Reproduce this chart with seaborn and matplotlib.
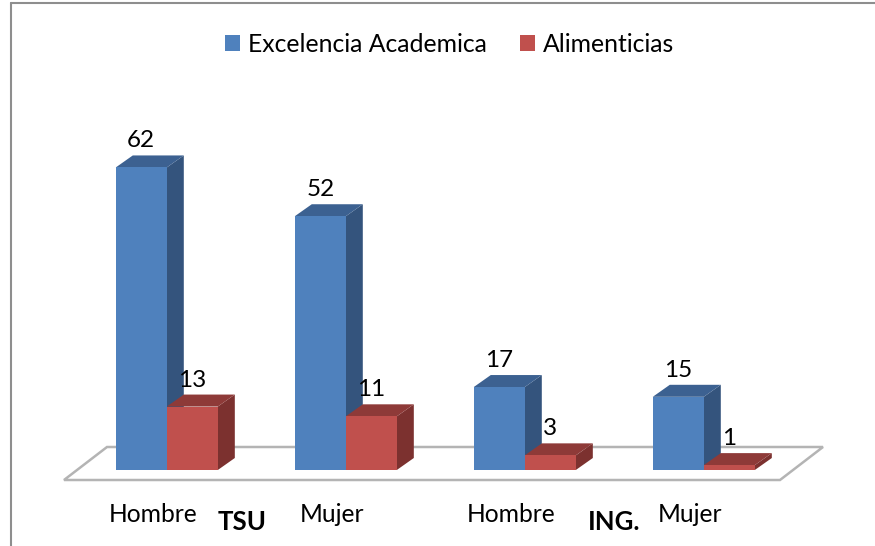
import matplotlib
matplotlib.use('Agg')
import matplotlib.pyplot as plt
from matplotlib.lines import Line2D
from matplotlib.patches import Patch, Polygon
import numpy as np
import pandas as pd
import seaborn as sns

# Chart data
grupos = ['TSU Hombre', 'TSU Mujer', 'ING Hombre', 'ING Mujer']
sexo = ['Hombre', 'Mujer', 'Hombre', 'Mujer']
excelencia = [62, 52, 17, 15]
alimenticias = [13, 11, 3, 1]
series = ['Excelencia Academica', 'Alimenticias']

df = pd.DataFrame({
    'grupo': grupos * 2,
    'serie': [series[0]] * 4 + [series[1]] * 4,
    'valor': excelencia + alimenticias,
})

W, H = 875, 546
CAT_PX = 179      # pixels between categories
UNIT_PX = 4.88    # pixels per unit on the value axis
BASE_Y = 470      # pixel row of the value 0
FIRST_X = 166.8   # pixel column of the first category
FONT = 'Lato'

colores = {series[0]: '#4F81BD', series[1]: '#C0504D'}
laterales = {series[0]: '#34547D', series[1]: '#7C312F'}
superiores = {series[0]: '#3C6191', series[1]: '#8E3A38'}

sns.set_theme(style='white')
plt.rcParams['font.family'] = [FONT, 'DejaVu Sans']

fig = plt.figure(figsize=(W / 100, H / 100), dpi=100, facecolor='white')
left, right, top = 64, 823, 100
ax = fig.add_axes([left / W, 1 - BASE_Y / H, (right - left) / W, (BASE_Y - top) / H])
ax.patch.set_alpha(0)

sns.barplot(data=df, x='grupo', y='valor', hue='serie', order=grupos, hue_order=series,
            palette=colores, width=0.57, gap=0, saturation=1, legend=False, ax=ax, zorder=3,
            linewidth=0)

ax.set_xlim((left - FIRST_X) / CAT_PX, (right - FIRST_X) / CAT_PX)
ax.set_ylim(0, (BASE_Y - top) / UNIT_PX)
sns.despine(ax=ax, left=True, bottom=True, top=True, right=True)
ax.set_xlabel('')
ax.set_ylabel('')
ax.set_yticks([])

# Labels sit a little left of the bar pairs
offset = 14 / CAT_PX
ax.set_xticks(np.arange(4) - offset, sexo, fontsize=17.7, color='black')
ax.tick_params(axis='x', length=0, pad=24)
ax.text(0.5 - offset, -52.5 / UNIT_PX, 'TSU', fontsize=18.5, fontweight='bold', color='black',
        ha='center', va='center')
ax.text(2.5, -52.5 / UNIT_PX, 'ING.', fontsize=18.5, fontweight='bold', color='black',
        ha='center', va='center')

# Floor of the 3D look
dx, dy = 17 / CAT_PX, 12 / UNIT_PX
x0, x1 = (64 - FIRST_X) / CAT_PX, (780 - FIRST_X) / CAT_PX
floor_front = (BASE_Y - 480) / UNIT_PX
floor_back = (BASE_Y - 447) / UNIT_PX
ax.add_patch(Polygon([(x0, floor_front), (x1, floor_front),
                      ((823 - FIRST_X) / CAT_PX, floor_back),
                      ((107 - FIRST_X) / CAT_PX, floor_back)],
                     closed=True, facecolor='white', edgecolor='#B4B4B4', linewidth=1.8,
                     clip_on=False, zorder=1))

# Side and top faces of every bar
for cont, nombre in zip(ax.containers, series):
    for bar in cont:
        xa = bar.get_x()
        xb = xa + bar.get_width()
        h = bar.get_height()
        ax.add_patch(Polygon([(xb, 0), (xb + dx, dy), (xb + dx, h + dy), (xb, h)],
                             closed=True, facecolor=laterales[nombre], edgecolor='none',
                             clip_on=False, zorder=2))
        ax.add_patch(Polygon([(xa, h), (xb, h), (xb + dx, h + dy), (xa + dx, h + dy)],
                             closed=True, facecolor=superiores[nombre], edgecolor='none',
                             clip_on=False, zorder=2.5))
    ax.bar_label(cont, fontsize=17.5, color='black', padding=11.5, zorder=5)

# Legend
handles = [Patch(facecolor=colores[s], edgecolor='none', label=s) for s in series]
fig.legend(handles=handles, loc='center', bbox_to_anchor=(450 / W, 1 - 44.5 / H), ncol=2,
           frameon=False, fontsize=17.8, handlelength=0.61, handleheight=0.61,
           handletextpad=0.32, columnspacing=1.34, borderpad=0, labelcolor='black')

# Chart border, only top and left are in the picture
borde = '#8E8E8E'
fig.add_artist(Line2D([10.5 / W, 10.5 / W], [0, 1 - 2.5 / H], color=borde, linewidth=1.5))
fig.add_artist(Line2D([10.5 / W, 1], [1 - 2.5 / H, 1 - 2.5 / H], color=borde, linewidth=1.5))

fig.savefig('out.png', dpi=100)
